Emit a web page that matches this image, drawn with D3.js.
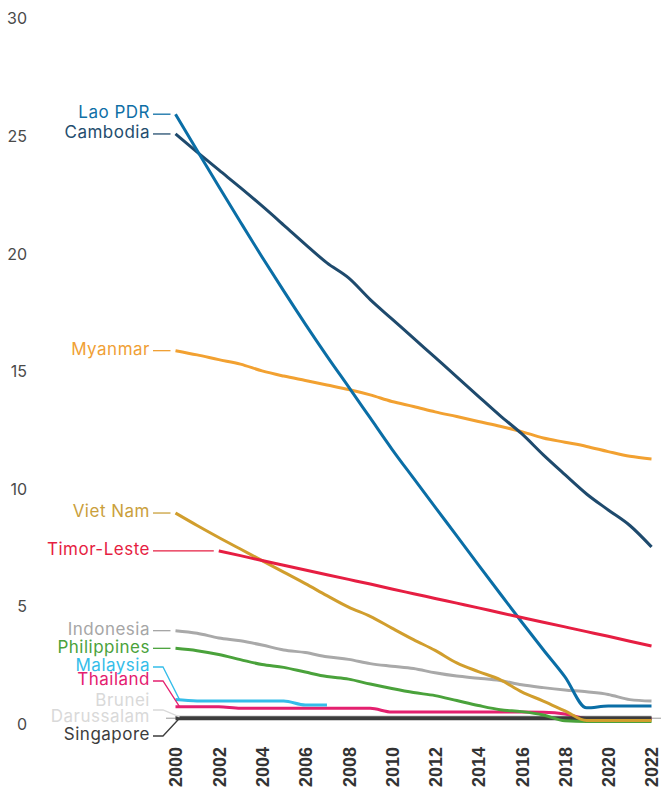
<!DOCTYPE html>
<html><head><meta charset="utf-8">
<script src="https://cdn.jsdelivr.net/npm/d3@7"></script>
<style>html,body{margin:0;padding:0;background:#fff;}svg{display:block;}</style>
</head><body>
<svg id="chart" width="661" height="793"></svg>
<script>
// ---------- DATA ----------
const years = [2000,2001,2002,2003,2004,2005,2006,2007,2008,2009,2010,2011,2012,2013,2014,2015,2016,2017,2018,2019,2020,2021,2022];
const xTickYears = [2000,2002,2004,2006,2008,2010,2012,2014,2016,2018,2020,2022];
const yTickValues = [0,5,10,15,20,25,30];

const laoPDR      = [25.81,24.27,22.74,21.23,19.74,18.30,16.89,15.53,14.22,12.90,11.58,10.34,9.11,7.89,6.66,5.44,4.23,3.05,1.90,0.58,0.66,0.66,0.66];
const cambodia    = [24.97,24.20,23.44,22.69,21.91,21.10,20.28,19.49,18.85,17.93,17.11,16.29,15.47,14.65,13.82,13.00,12.23,11.33,10.49,9.67,8.99,8.33,7.42];
const myanmar     = [15.76,15.58,15.38,15.19,14.90,14.68,14.49,14.30,14.11,13.88,13.60,13.39,13.16,12.96,12.75,12.55,12.32,12.05,11.87,11.69,11.47,11.27,11.16];
const vietNam     = [8.86,8.33,7.82,7.33,6.84,6.35,5.86,5.35,4.86,4.47,3.97,3.48,3.02,2.49,2.12,1.78,1.26,0.87,0.45,0.04,0.04,0.04,0.04];
const timorLeste  = [null,null,7.25,7.05,6.84,6.64,6.44,6.24,6.04,5.84,5.63,5.43,5.23,5.03,4.83,4.62,4.42,4.22,4.02,3.82,3.62,3.41,3.21];
const indonesia   = [3.86,3.75,3.55,3.43,3.25,3.04,2.93,2.75,2.64,2.46,2.35,2.25,2.07,1.93,1.84,1.74,1.56,1.44,1.34,1.26,1.15,0.93,0.87];
const philippines = [3.11,3.01,2.85,2.63,2.42,2.30,2.10,1.91,1.80,1.59,1.40,1.23,1.10,0.89,0.68,0.50,0.42,0.28,0.03,0.00,0.00,0.00,0.00];
const malaysia    = [0.93,0.87,0.87,0.87,0.87,0.87,0.70,0.70,null,null,null,null,null,null,null,null,null,null,null,null,null,null,null];
const thailand    = [0.63,0.63,0.63,0.56,0.56,0.56,0.56,0.56,0.56,0.56,0.40,0.40,0.40,0.40,0.40,0.40,0.40,0.39,0.32,0.13,0.13,0.13,0.13];
const brunei      = [0.20,0.20,0.20,0.20,0.20,0.20,0.20,0.20,0.20,0.20,0.20,0.20,0.20,0.20,0.20,0.20,0.20,0.20,0.20,0.20,0.20,0.20,0.20];
const singapore   = [0.14,0.14,0.14,0.14,0.14,0.14,0.14,0.14,0.14,0.14,0.14,0.14,0.14,0.14,0.14,0.14,0.14,0.14,0.14,0.14,0.14,0.14,0.14];

// ---------- STYLE / LAYOUT ----------
const series = [
  {name:"Brunei Darussalam", lines:["Brunei","Darussalam"], values:brunei, color:"#dcdcdc", labelColor:"#d9d9d9", width:3, labelY:710},
  {name:"Thailand", lines:["Thailand"], values:thailand, color:"#e4206f", labelColor:"#e4206f", width:3, labelY:681},
  {name:"Singapore", lines:["Singapore"], values:singapore, color:"#3c3c3c", labelColor:"#3c3c3c", width:4, labelY:736},
  {name:"Malaysia", lines:["Malaysia"], values:malaysia, color:"#35bde9", labelColor:"#35bde9", width:3, labelY:667},
  {name:"Indonesia", lines:["Indonesia"], values:indonesia, color:"#a9a9a9", labelColor:"#a6a6a6", width:3},
  {name:"Philippines", lines:["Philippines"], values:philippines, color:"#4aa23b", labelColor:"#4aa23b", width:3},
  {name:"Viet Nam", lines:["Viet Nam"], values:vietNam, color:"#d19e2d", labelColor:"#caa03c", width:3},
  {name:"Myanmar", lines:["Myanmar"], values:myanmar, color:"#f2a131", labelColor:"#f0a035", width:3},
  {name:"Cambodia", lines:["Cambodia"], values:cambodia, color:"#1e4a6d", labelColor:"#244d6e", width:3},
  {name:"Lao PDR", lines:["Lao PDR"], values:laoPDR, color:"#0a6ea6", labelColor:"#0f6fa6", width:3},
  {name:"Timor-Leste", lines:["Timor-Leste"], values:timorLeste, color:"#e61e42", labelColor:"#e61e42", width:3}
];

const svg = d3.select("#chart");
const x = d3.scaleLinear().domain([2000,2022]).range([175.5,651.5]);
const y = d3.scaleLinear().domain([0,30]).range([721.5,15.6]);

const labelFont = "Inter, 'Open Sans', sans-serif";

// baseline axis line
svg.append("line")
  .attr("x1",166).attr("x2",661)
  .attr("y1",y(0.14)).attr("y2",y(0.14))
  .attr("stroke","#9a9a9a").attr("stroke-width",1);

// y axis
const yAxis = svg.append("g").attr("transform","translate(27,3)")
  .call(d3.axisLeft(y).tickValues(yTickValues).tickSize(0).tickPadding(0));
yAxis.select(".domain").remove();
yAxis.selectAll("text")
  .attr("fill","#4a4a4a").style("font-family",labelFont).style("font-size","16px");

// x axis
const xAxis = svg.append("g").attr("transform","translate(0,747)")
  .call(d3.axisBottom(x).tickValues(xTickYears).tickFormat(d3.format("d")).tickSize(0));
xAxis.select(".domain").remove();
xAxis.selectAll("text")
  .attr("x",0).attr("y",0).attr("dy","0.36em")
  .attr("transform","rotate(-90)")
  .style("text-anchor","end")
  .attr("fill","#333")
  .style("font-family","'Liberation Sans', Arial, sans-serif")
  .style("font-weight","bold").style("font-size","18px");

// lines
const line = d3.line()
  .defined(d => d.v !== null)
  .x(d => x(d.year)).y(d => y(d.v))
  .curve(d3.curveMonotoneX);

series.forEach(s => {
  const pts = years.map((yr,i) => ({year:yr, v:s.values[i]}));
  svg.append("path").datum(pts)
    .attr("fill","none").attr("stroke",s.color)
    .attr("stroke-width",s.width)
    .attr("stroke-linejoin","round").attr("stroke-linecap","butt")
    .attr("d",line);
});

// labels + connectors
series.forEach(s => {
  const firstIdx = s.values.findIndex(v => v !== null);
  const x0 = x(years[firstIdx]);
  const y0 = y(s.values[firstIdx]);
  const ly = s.labelY !== undefined ? s.labelY : y0;
  let path;
  if (s.labelY !== undefined) {
    path = `M153,${ly}H163L${x0+4},${y0}`;
  } else {
    path = `M153,${ly}H${x0-5}`;
  }
  svg.append("path").attr("d",path)
    .attr("fill","none").attr("stroke",s.labelColor).attr("stroke-width",1.3);
  const n = s.lines.length;
  s.lines.forEach((t,k) => {
    svg.append("text")
      .attr("x",150).attr("y", ly + (k - (n-1)/2)*16)
      .attr("dy","0.25em")
      .attr("text-anchor","end")
      .attr("fill",s.labelColor)
      .style("font-family",labelFont).style("font-size","17px")
      .style("letter-spacing","0.5px")
      .text(t);
  });
});
</script>
</body></html>
